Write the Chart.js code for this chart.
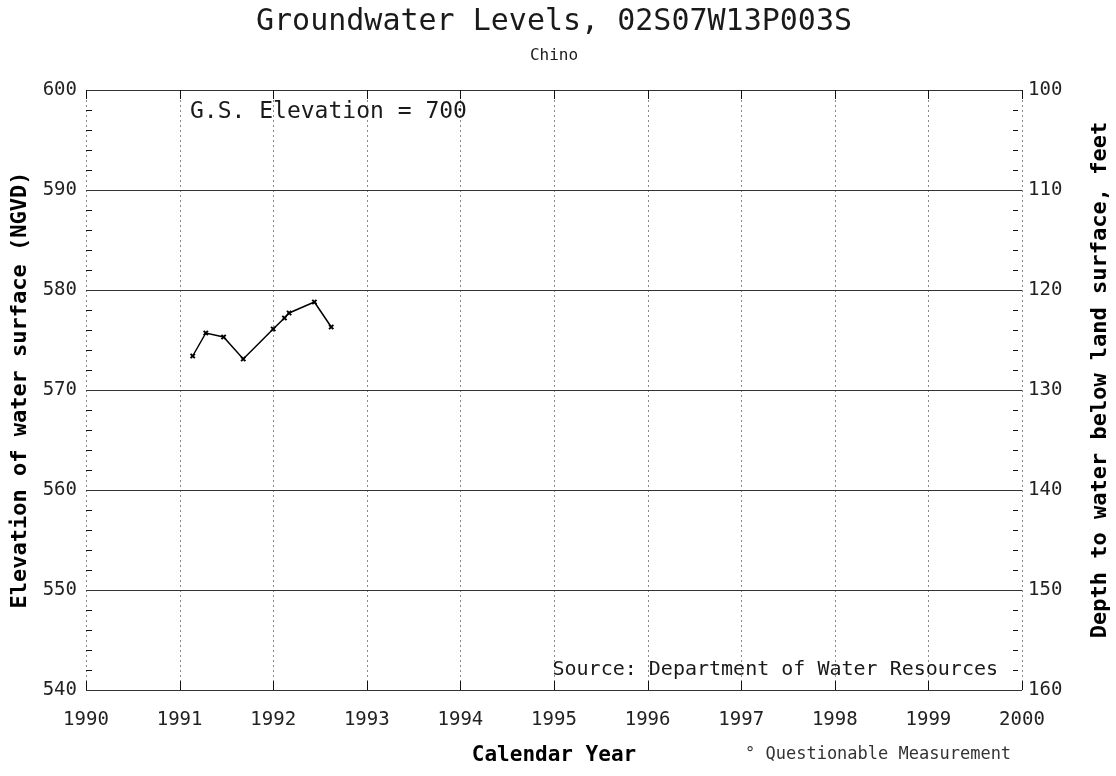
<!DOCTYPE html>
<html>
<head>
<meta charset="utf-8">
<script src="https://cdn.jsdelivr.net/npm/chart.js@4.4.0/dist/chart.umd.min.js"></script>
<style>
  html, body { margin: 0; padding: 0; background: #fff; }
</style>
</head>
<body>
<canvas id="gwChart" width="1116" height="776"></canvas>
<script>
// measurements (decimal year, elevation in ft NGVD)
const years = [1991.14, 1991.28, 1991.47, 1991.68, 1992.00, 1992.12, 1992.17, 1992.44, 1992.62];
const levels = [573.4, 575.7, 575.3, 573.1, 576.1, 577.2, 577.7, 578.8, 576.3];

const yearTicks = [1990, 1991, 1992, 1993, 1994, 1995, 1996, 1997, 1998, 1999, 2000];
const elevTicks = [540, 550, 560, 570, 580, 590, 600];
const depthTicks = [100, 110, 120, 130, 140, 150, 160];
const groundElevation = 700;

const mono = "'DejaVu Sans Mono', 'Liberation Mono', monospace";

// grid, frame, minor ticks and the loose texts
const framePlugin = {
    id: 'frame',
    beforeDatasetsDraw(chart) {
        const ctx = chart.ctx;
        const a = chart.chartArea;
        const x = chart.scales.x, y = chart.scales.y;
        ctx.save();
        // vertical year lines, dotted
        ctx.strokeStyle = '#8a8a8a';
        ctx.lineWidth = 1;
        ctx.setLineDash([2, 3]);
        yearTicks.slice(1, -1).forEach(v => {
            const px = Math.round(x.getPixelForValue(v)) + 0.5;
            ctx.beginPath(); ctx.moveTo(px, a.top); ctx.lineTo(px, a.bottom); ctx.stroke();
        });
        // left / right borders, light dotted
        [a.left, a.right].forEach(px => {
            px = Math.round(px) + 0.5;
            ctx.beginPath(); ctx.moveTo(px, a.top); ctx.lineTo(px, a.bottom); ctx.stroke();
        });
        // horizontal elevation lines
        ctx.setLineDash([]);
        ctx.strokeStyle = '#333';
        elevTicks.forEach(v => {
            const py = Math.round(y.getPixelForValue(v)) + 0.5;
            ctx.beginPath(); ctx.moveTo(a.left, py); ctx.lineTo(a.right, py); ctx.stroke();
        });
        // year ticks on top and bottom
        ctx.strokeStyle = '#111';
        yearTicks.forEach(v => {
            const px = Math.round(x.getPixelForValue(v)) + 0.5;
            ctx.beginPath(); ctx.moveTo(px, a.top); ctx.lineTo(px, a.top + 9); ctx.stroke();
            ctx.beginPath(); ctx.moveTo(px, a.bottom); ctx.lineTo(px, a.bottom - 9); ctx.stroke();
        });
        // minor ticks every 2 ft on both sides
        for (let v = 542; v < 600; v += 2) {
            if (v % 10 === 0) continue;
            const py = Math.round(y.getPixelForValue(v)) + 0.5;
            ctx.beginPath(); ctx.moveTo(a.left, py); ctx.lineTo(a.left + 6, py); ctx.stroke();
            ctx.beginPath(); ctx.moveTo(a.right - 9, py); ctx.lineTo(a.right - 4, py); ctx.stroke();
        }
        ctx.restore();
    },
    afterDraw(chart) {
        const ctx = chart.ctx;
        const a = chart.chartArea;
        const cx = (a.left + a.right) / 2;
        ctx.save();
        ctx.fillStyle = '#1a1a1a';
        ctx.textBaseline = 'middle';
        ctx.textAlign = 'center';
        ctx.font = '30px ' + mono;
        ctx.fillText('Groundwater Levels, 02S07W13P003S', cx, 22);
        ctx.font = '16px ' + mono;
        ctx.fillText('Chino', cx, 56);

        ctx.textAlign = 'left';
        ctx.font = '23px ' + mono;
        ctx.fillText('G.S. Elevation = ' + groundElevation, 190, 112);

        ctx.textAlign = 'right';
        ctx.font = '20px ' + mono;
        ctx.fillText('Source: Department of Water Resources', 998, 670);

        // right axis title, reads bottom to top like the left one
        ctx.save();
        ctx.translate(1100, (a.top + a.bottom) / 2 - 10);
        ctx.rotate(-Math.PI / 2);
        ctx.textAlign = 'center';
        ctx.font = 'bold 22px ' + mono;
        ctx.fillStyle = '#000';
        ctx.fillText('Depth to water below land surface, feet', 0, 0);
        ctx.restore();

        ctx.textAlign = 'left';
        ctx.font = '17px ' + mono;
        ctx.fillStyle = '#333';
        ctx.fillText('\u00b0 Questionable Measurement', 745, 755);
        ctx.restore();
    }
};

const ctx = document.getElementById('gwChart').getContext('2d');
const gwChart = new Chart(ctx, {
    type: 'line',
    data: {
        datasets: [{
            label: 'Groundwater level',
            data: years.map((yr, i) => ({x: yr, y: levels[i]})),
            borderColor: '#000',
            borderWidth: 1.5,
            pointStyle: 'crossRot',
            pointRadius: 3,
            pointBorderWidth: 2,
            pointBorderColor: '#000',
            fill: false,
            tension: 0
        }]
    },
    options: {
        responsive: false,
        animation: false,
        devicePixelRatio: 1,
        layout: { padding: { top: 90, left: 0, right: 0, bottom: 0 } },
        plugins: {
            legend: { display: false },
            tooltip: { enabled: false },
            title: { display: false }
        },
        scales: {
            x: {
                type: 'linear',
                min: 1990,
                max: 2000,
                afterBuildTicks: s => { s.ticks = yearTicks.map(v => ({value: v})); },
                afterFit: s => { s.height = 86; },
                grid: { display: false, drawTicks: false },
                border: { display: false },
                ticks: {
                    padding: 19,
                    color: '#222',
                    font: { family: mono, size: 19 },
                    maxRotation: 0,
                    callback: v => String(v)
                },
                title: {
                    display: true,
                    text: 'Calendar Year',
                    color: '#000',
                    font: { family: mono, size: 21, weight: 'bold' },
                    padding: { top: 0, bottom: 8 }
                }
            },
            y: {
                position: 'left',
                min: 540,
                max: 600,
                afterBuildTicks: s => { s.ticks = elevTicks.map(v => ({value: v})); },
                afterFit: s => { s.width = 86; },
                grid: { display: false, drawTicks: false },
                border: { display: false },
                ticks: {
                    padding: 9,
                    color: '#222',
                    font: { family: mono, size: 19 }
                },
                title: {
                    display: true,
                    text: 'Elevation of water surface (NGVD)',
                    color: '#000',
                    font: { family: mono, size: 22, weight: 'bold' },
                    padding: { top: 7, bottom: 0 }
                }
            },
            y2: {
                position: 'right',
                min: 100,
                max: 160,
                reverse: true,
                afterBuildTicks: s => { s.ticks = depthTicks.map(v => ({value: v})); },
                afterFit: s => { s.width = 94; },
                grid: { display: false, drawTicks: false },
                border: { display: false },
                ticks: {
                    padding: 6,
                    color: '#222',
                    font: { family: mono, size: 19 }
                },
                title: { display: false }
            }
        }
    },
    plugins: [framePlugin]
});
</script>
</body>
</html>
